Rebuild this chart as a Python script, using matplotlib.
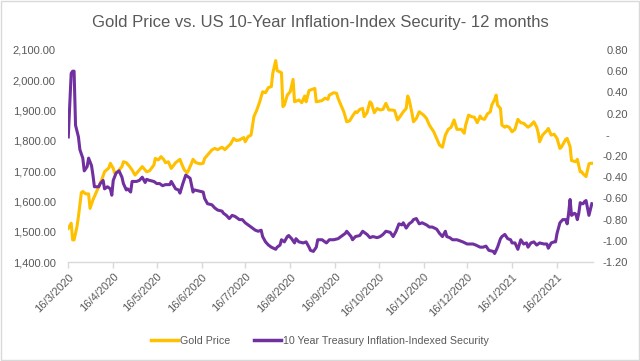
"""Gold price vs US 10-year TIPS yield, 12 months (Excel-style dual axis line chart)."""
import matplotlib
matplotlib.use("Agg")
import matplotlib.pyplot as plt
from matplotlib.patches import Rectangle
from matplotlib.lines import Line2D
import pandas as pd

START = "2020-03-16"

# gold price (USD/oz): day offset from START, value
gold_day = [0, 2, 3, 4, 6, 7, 9, 10, 12, 14, 15, 17, 19, 21, 23, 25, 28, 29, 31, 32,
            34, 37, 38, 40, 42, 44, 46, 48, 49, 51, 53, 54, 56, 59, 60, 62, 64, 66, 67, 69,
            71, 72, 74, 77, 78, 80, 82, 83, 85, 86, 88, 91, 93, 94, 96, 99, 101, 103, 106, 108,
            110, 112, 114, 116, 118, 121, 122, 124, 126, 128, 130, 132, 134, 136, 138, 140, 141, 143, 144, 147,
            148, 149, 151, 153, 155, 156, 159, 161, 163, 164, 166, 168, 170, 171, 175, 177, 179, 180, 183, 185,
            186, 188, 190, 192, 194, 196, 198, 199, 201, 203, 204, 206, 208, 209, 211, 213, 215, 217, 219, 221,
            223, 225, 227, 229, 231, 233, 234, 235, 237, 238, 240, 242, 245, 247, 249, 252, 254, 256, 258, 260,
            262, 264, 266, 268, 271, 273, 274, 276, 278, 280, 282, 284, 285, 287, 289, 291, 292, 294, 295, 296,
            298, 299, 301, 302, 304, 306, 308, 310, 312, 314, 317, 319, 321, 323, 324, 325, 327, 330, 331, 333,
            335, 337, 339, 340, 343, 344, 346, 347, 350, 351, 353, 354, 355, 357, 359, 360, 362]
gold_val = [1511, 1528, 1473, 1473, 1517, 1550, 1629, 1633, 1625, 1625, 1577, 1605, 1627, 1649, 1671, 1698, 1711, 1726, 1709, 1693,
            1698, 1715, 1731, 1728, 1717, 1704, 1687, 1698, 1704, 1715, 1704, 1698, 1701, 1720, 1742, 1737, 1748, 1737, 1728, 1731,
            1709, 1715, 1728, 1739, 1726, 1704, 1695, 1704, 1726, 1739, 1728, 1724, 1726, 1742, 1753, 1770, 1775, 1771, 1779, 1771,
            1781, 1790, 1808, 1801, 1803, 1811, 1797, 1814, 1819, 1880, 1902, 1929, 1962, 1959, 1976, 1979, 2023, 2065, 2032, 2025,
            1913, 1918, 1951, 1962, 2003, 1929, 1935, 1926, 1948, 1929, 1966, 1970, 1973, 1929, 1933, 1941, 1937, 1951, 1959, 1957,
            1941, 1918, 1896, 1863, 1866, 1882, 1896, 1893, 1904, 1907, 1880, 1893, 1929, 1924, 1893, 1907, 1902, 1904, 1924, 1902,
            1902, 1900, 1869, 1882, 1896, 1907, 1948, 1937, 1891, 1863, 1874, 1896, 1885, 1874, 1852, 1830, 1808, 1786, 1779, 1819,
            1838, 1845, 1869, 1838, 1838, 1825, 1852, 1885, 1880, 1878, 1860, 1882, 1874, 1871, 1889, 1896, 1918, 1937, 1951, 1918,
            1907, 1852, 1845, 1849, 1845, 1830, 1838, 1871, 1860, 1858, 1845, 1852, 1863, 1845, 1827, 1797, 1819, 1834, 1841, 1819,
            1822, 1808, 1775, 1779, 1805, 1808, 1781, 1735, 1731, 1739, 1698, 1698, 1691, 1682, 1724, 1726, 1726]

# 10 year treasury inflation-indexed security yield (%)
tips_day = [0, 2, 3, 4, 5, 7, 8, 10, 11, 13, 14, 16, 17, 18, 21, 22, 24, 25, 27, 29,
            30, 31, 33, 35, 37, 38, 40, 41, 43, 44, 47, 49, 51, 53, 54, 56, 59, 61, 63, 65,
            67, 70, 71, 74, 76, 77, 79, 81, 83, 84, 86, 87, 90, 93, 94, 96, 99, 101, 103, 106,
            107, 109, 111, 113, 115, 117, 118, 120, 122, 124, 126, 129, 131, 133, 134, 136, 138, 140, 143, 144,
            146, 147, 149, 151, 152, 154, 156, 157, 159, 162, 164, 166, 167, 169, 171, 172, 175, 177, 178, 180,
            183, 186, 188, 191, 192, 195, 196, 198, 201, 203, 206, 208, 210, 213, 215, 217, 219, 222, 224, 226,
            228, 230, 231, 233, 235, 237, 238, 240, 242, 244, 247, 249, 251, 254, 256, 258, 260, 261, 263, 265,
            268, 270, 272, 275, 277, 279, 281, 284, 286, 288, 290, 293, 294, 296, 298, 299, 301, 303, 305, 306,
            308, 310, 312, 314, 316, 317, 319, 321, 323, 325, 328, 330, 331, 333, 335, 336, 337, 339, 341, 343,
            344, 345, 346, 347, 349, 350, 351, 352, 353, 354, 355, 356, 357, 358, 359, 361]
tips_val = [-0.02, 0.58, 0.60, 0.60, 0.09, -0.02, -0.14, -0.22, -0.34, -0.30, -0.22, -0.29, -0.38, -0.49, -0.49, -0.46, -0.43, -0.51, -0.49, -0.51,
            -0.57, -0.43, -0.36, -0.34, -0.40, -0.46, -0.52, -0.51, -0.54, -0.44, -0.44, -0.43, -0.40, -0.45, -0.42, -0.43, -0.44, -0.46, -0.46, -0.48,
            -0.47, -0.47, -0.44, -0.51, -0.52, -0.55, -0.46, -0.38, -0.40, -0.41, -0.54, -0.52, -0.53, -0.54, -0.60, -0.65, -0.66, -0.69, -0.71, -0.72,
            -0.74, -0.76, -0.79, -0.76, -0.77, -0.79, -0.80, -0.80, -0.83, -0.85, -0.87, -0.90, -0.91, -0.90, -0.96, -1.01, -1.04, -1.06, -1.08, -1.06,
            -1.04, -0.99, -1.01, -0.96, -0.95, -0.98, -1.02, -0.98, -1.01, -1.02, -1.01, -1.06, -1.09, -1.10, -1.06, -0.99, -0.99, -1.01, -1.02, -0.99,
            -0.99, -0.98, -0.96, -0.93, -0.91, -0.96, -0.99, -0.96, -0.95, -0.91, -0.94, -0.97, -0.96, -0.97, -0.96, -0.94, -0.91, -0.92, -0.96, -0.91,
            -0.84, -0.85, -0.83, -0.88, -0.84, -0.82, -0.80, -0.79, -0.84, -0.83, -0.85, -0.87, -0.87, -0.89, -0.93, -0.96, -0.91, -0.96, -0.97, -0.99,
            -0.99, -1.00, -1.01, -1.03, -1.03, -1.03, -1.04, -1.06, -1.06, -1.05, -1.09, -1.10, -1.12, -1.06, -0.98, -0.96, -0.94, -0.98, -0.99, -1.02,
            -1.02, -1.08, -0.99, -1.03, -1.02, -1.06, -1.02, -1.01, -1.04, -1.02, -1.03, -1.03, -1.07, -1.02, -1.01, -1.01, -0.93, -0.83, -0.80, -0.80,
            -0.84, -0.74, -0.61, -0.76, -0.74, -0.75, -0.80, -0.74, -0.64, -0.65, -0.65, -0.63, -0.62, -0.69, -0.76, -0.65]

gold_ticks = [1400, 1500, 1600, 1700, 1800, 1900, 2000, 2100]
tips_ticks = [-1.2, -1.0, -0.8, -0.6, -0.4, -0.2, 0.0, 0.2, 0.4, 0.6, 0.8]
month_ticks = pd.date_range(START, periods=12, freq=pd.DateOffset(months=1))

TITLE = "Gold Price vs. US 10-Year Inflation-Index Security- 12 months"
GOLD_LABEL = "Gold Price"
TIPS_LABEL = "10 Year Treasury Inflation-Indexed Security"

GOLD_C = "#FFC000"
TIPS_C = "#7030A0"
TEXT_C = "#595959"
AXIS_C = "#D9D9D9"

plt.rcParams["font.family"] = ["Liberation Sans", "DejaVu Sans"]

start = pd.Timestamp(START)
gold_x = [start + pd.Timedelta(days=d) for d in gold_day]
tips_x = [start + pd.Timedelta(days=d) for d in tips_day]

fig = plt.figure(figsize=(6.4, 3.61), dpi=100)
ax = fig.add_axes([0.1067, 0.2742, 0.8203, 0.5873])
ax2 = ax.twinx()

ax.plot(gold_x, gold_val, color=GOLD_C, lw=2.2, solid_joinstyle="round", zorder=3)
ax2.plot(tips_x, tips_val, color=TIPS_C, lw=2.2, solid_joinstyle="round", zorder=3)

ax.set_xlim(start, start + pd.Timedelta(days=362))
ax.set_ylim(1400, 2100)
ax2.set_ylim(-1.2, 0.8)
ax.set_yticks(gold_ticks)
ax.set_yticklabels([f"{v:,.2f}" for v in gold_ticks])
ax2.set_yticks(tips_ticks)
ax2.set_yticklabels(["-      " if abs(v) < 1e-9 else f"{v:.2f}" for v in tips_ticks])

ax.set_xticks(month_ticks)
ax.set_xticklabels([f"{d.day}/{d.month}/{d.year}" for d in month_ticks],
                   rotation=45, ha="right", rotation_mode="anchor")

for a in (ax, ax2):
    for s in a.spines.values():
        s.set_visible(False)
ax.spines["bottom"].set_visible(True)
ax.spines["bottom"].set_color(AXIS_C)
ax.spines["bottom"].set_linewidth(1.0)

ax.tick_params(axis="x", colors=AXIS_C, length=4, width=1.0, labelcolor=TEXT_C,
               labelsize=8, pad=3)
ax.tick_params(axis="y", length=0, labelcolor=TEXT_C, labelsize=8, pad=9)
ax2.tick_params(axis="y", length=0, labelcolor=TEXT_C, labelsize=8, pad=25)
for lab in ax2.get_yticklabels():
    lab.set_horizontalalignment("right")

fig.text(0.5, 0.937, TITLE, ha="center", va="center", fontsize=12, color=TEXT_C)

handles = [Line2D([], [], color=GOLD_C, lw=2.5), Line2D([], [], color=TIPS_C, lw=2.5)]
fig.legend(handles, [GOLD_LABEL, TIPS_LABEL], loc="center", bbox_to_anchor=(0.5, 0.055),
           ncol=2, frameon=False, fontsize=7.7, handlelength=2.5, handletextpad=0.2,
           columnspacing=2.2, labelcolor=TEXT_C)

fig.add_artist(Rectangle((0.001, 0.002), 0.997, 0.995, transform=fig.transFigure,
                         fill=False, edgecolor=AXIS_C, lw=1.0))

fig.savefig("out.png", dpi=100)
